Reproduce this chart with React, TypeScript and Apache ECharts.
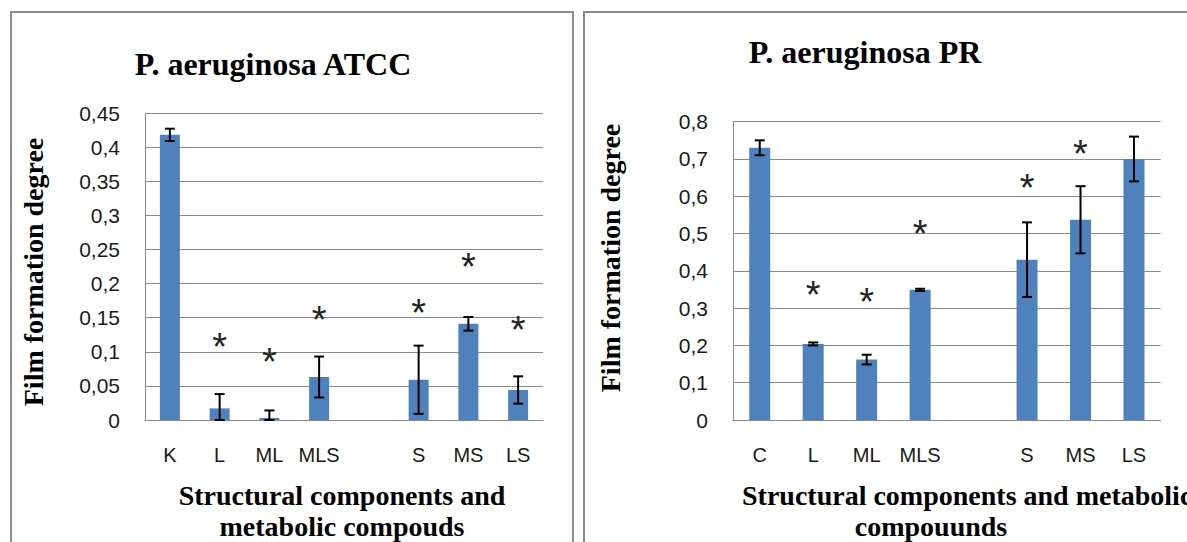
import React, { useEffect, useRef } from "react";
import * as echarts from "echarts";

const leftCategories = ["K", "L", "ML", "MLS", "", "S", "MS", "LS"];
const rightCategories = ["C", "L", "ML", "MLS", "", "S", "MS", "LS"];

const leftValues = [0.418, 0.017, 0.003, 0.063, null, 0.059, 0.141, 0.044];
const leftErrors = [0.009, 0.021, 0.011, 0.03, null, 0.05, 0.01, 0.02];
const leftStars = [null, 0.115, 0.093, 0.154, null, 0.164, 0.232, 0.139];

const rightValues = [0.73, 0.204, 0.162, 0.349, null, 0.43, 0.537, 0.7];
const rightErrors = [0.02, 0.004, 0.013, 0.003, null, 0.1, 0.09, 0.06];
const rightStars = [null, 0.349, 0.329, 0.511, null, 0.636, 0.726, null];

const leftTickLabels = ["0", "0,05", "0,1", "0,15", "0,2", "0,25", "0,3", "0,35", "0,4", "0,45"];
const rightTickLabels = ["0", "0,1", "0,2", "0,3", "0,4", "0,5", "0,6", "0,7", "0,8"];

const leftTitle = "P. aeruginosa ATCC";
const rightTitle = "P. aeruginosa PR";
const yName = "Film formation degree";
const leftXName = ["Structural components and", "metabolic compouds"];
const rightXName = ["Structural components and metabolic", "compouunds"];

const SERIF = "'Liberation Serif', 'Times New Roman', serif";
const SANS = "'Liberation Sans', Arial, sans-serif";
const GRID = "#8a8a8a";
const BAR = "#4f81bd";

function errData(values: (number | null)[], errs: (number | null)[]) {
  const out: any[] = [];
  values.forEach((v, i) => {
    if (v == null || errs[i] == null) return;
    out.push([i, Math.max(0, v - (errs[i] as number)), v + (errs[i] as number)]);
  });
  return out;
}

function starData(stars: (number | null)[]) {
  const out: any[] = [];
  stars.forEach((s, i) => {
    if (s != null) out.push([i, s]);
  });
  return out;
}

const errRender = (params: any, api: any) => {
  const x = api.value(0);
  const lo = api.coord([x, api.value(1)]);
  const hi = api.coord([x, api.value(2)]);
  const hw = 5;
  const style = { stroke: "#000", lineWidth: 2 };
  return {
    type: "group",
    children: [
      { type: "line", shape: { x1: lo[0], y1: lo[1], x2: hi[0], y2: hi[1] }, style },
      { type: "line", shape: { x1: hi[0] - hw, y1: hi[1], x2: hi[0] + hw, y2: hi[1] }, style },
      { type: "line", shape: { x1: lo[0] - hw, y1: lo[1], x2: lo[0] + hw, y2: lo[1] }, style },
    ],
  };
};

const starRender = (params: any, api: any) => {
  const p = api.coord([api.value(0), api.value(1)]);
  return {
    type: "text",
    x: p[0],
    y: p[1] + 5,
    style: {
      text: "*",
      fontSize: 38,
      fontFamily: SANS,
      fill: "#222",
      textAlign: "center",
      textVerticalAlign: "middle",
    },
  };
};

export default function App() {
  const ref = useRef<HTMLDivElement>(null);
  useEffect(() => {
    document.body.style.margin = "0";
    if (!ref.current) return;
    const chart = echarts.init(ref.current, undefined, { renderer: "svg" });
    const yAxisCommon = {
      type: "value",
      min: 0,
      axisLine: { show: true, lineStyle: { color: GRID, width: 1 } },
      axisTick: { show: false },
      splitLine: { show: true, lineStyle: { color: GRID, width: 1 } },
      axisLabel: { margin: 25, fontSize: 21, fontFamily: SANS, color: "#1a1a1a" },
    };
    const xAxisCommon = {
      type: "category",
      axisLine: { show: true, lineStyle: { color: GRID, width: 1 } },
      axisTick: { show: false },
      axisLabel: { margin: 25, fontSize: 20, fontFamily: SANS, color: "#1a1a1a", interval: 0 },
    };
    const textStyle = (extra: any) => ({ fill: "#000", fontFamily: SERIF, fontWeight: "bold", ...extra });
    chart.setOption({
      animation: false,
      backgroundColor: "#fff",
      grid: [
        { left: 145, top: 113, width: 398, height: 307 },
        { left: 733, top: 121.7, width: 427.7, height: 298.3 },
      ],
      xAxis: [
        { ...xAxisCommon, gridIndex: 0, data: leftCategories },
        { ...xAxisCommon, gridIndex: 1, data: rightCategories },
      ],
      yAxis: [
        {
          ...yAxisCommon,
          gridIndex: 0,
          max: 0.45,
          interval: 0.05,
          axisLabel: { ...yAxisCommon.axisLabel, formatter: (v: number) => leftTickLabels[Math.round(v / 0.05)] },
        },
        {
          ...yAxisCommon,
          gridIndex: 1,
          max: 0.8,
          interval: 0.1,
          axisLabel: { ...yAxisCommon.axisLabel, formatter: (v: number) => rightTickLabels[Math.round(v / 0.1)] },
        },
      ],
      series: [
        { type: "bar", xAxisIndex: 0, yAxisIndex: 0, data: leftValues, barWidth: 20, itemStyle: { color: BAR } },
        { type: "bar", xAxisIndex: 1, yAxisIndex: 1, data: rightValues, barWidth: 21, itemStyle: { color: BAR } },
        { type: "custom", xAxisIndex: 0, yAxisIndex: 0, data: errData(leftValues, leftErrors), renderItem: errRender, z: 5 },
        { type: "custom", xAxisIndex: 1, yAxisIndex: 1, data: errData(rightValues, rightErrors), renderItem: errRender, z: 5 },
        { type: "custom", xAxisIndex: 0, yAxisIndex: 0, data: starData(leftStars), renderItem: starRender, z: 5 },
        { type: "custom", xAxisIndex: 1, yAxisIndex: 1, data: starData(rightStars), renderItem: starRender, z: 5 },
      ],
      graphic: [
        { type: "rect", shape: { x: 11, y: 12, width: 562, height: 600 }, style: { fill: "none", stroke: "#8c8c8c", lineWidth: 2 } },
        { type: "rect", shape: { x: 584, y: 12, width: 700, height: 600 }, style: { fill: "none", stroke: "#8c8c8c", lineWidth: 2 } },
        { type: "text", x: 273, y: 64, style: textStyle({ text: leftTitle, fontSize: 32, textAlign: "center", textVerticalAlign: "middle" }) },
        { type: "text", x: 865, y: 52, style: textStyle({ text: rightTitle, fontSize: 32, textAlign: "center", textVerticalAlign: "middle" }) },
        { type: "text", x: 33, y: 272, rotation: Math.PI / 2, style: textStyle({ text: yName, fontSize: 28, textAlign: "center", textVerticalAlign: "middle" }) },
        { type: "text", x: 610, y: 258, rotation: Math.PI / 2, style: textStyle({ text: yName, fontSize: 28, textAlign: "center", textVerticalAlign: "middle" }) },
        { type: "text", x: 342, y: 495, style: textStyle({ text: leftXName[0], fontSize: 28, textAlign: "center", textVerticalAlign: "middle" }) },
        { type: "text", x: 342, y: 526, style: textStyle({ text: leftXName[1], fontSize: 28, textAlign: "center", textVerticalAlign: "middle" }) },
        { type: "text", x: 742, y: 495, style: textStyle({ text: rightXName[0], fontSize: 28, textAlign: "left", textVerticalAlign: "middle" }) },
        { type: "text", x: 931, y: 526, style: textStyle({ text: rightXName[1], fontSize: 28, textAlign: "center", textVerticalAlign: "middle" }) },
      ],
    });
    return () => chart.dispose();
  }, []);
  return <div ref={ref} style={{ position: "absolute", left: 0, top: 0, width: 1187, height: 542 }} />;
}
